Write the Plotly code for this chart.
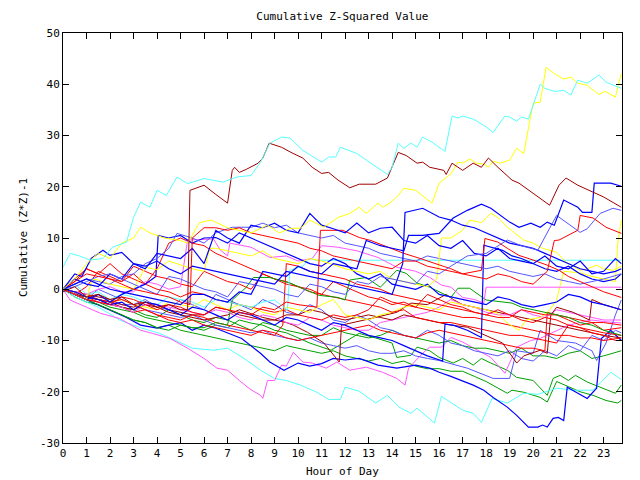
import plotly.graph_objects as go

# ---------------- data: (hour of day, cumulative (Z*Z)-1) per series ----------------
c1 = [(0, 4.3), (0.3, 7), (0.7, 6.5), (1.15, 5.7), (1.7, 6), (2.1, 8.2), (2.7, 9.2), (3.0, 14), (3.3, 17), (3.7, 16), (4.0, 19.3), (4.4, 18.3), (4.85, 21.9), (5.3, 20.6), (6.0, 21.6), (6.8, 20.9), (7.4, 21.9), (8.0, 22.2), (8.4, 24.8), (8.8, 28.5), (9.3, 29.7), (9.66, 29.5), (10.2, 27.1), (11.0, 24.8), (11.3, 25.8), (11.6, 25.8), (11.8, 27.7), (12.5, 26.5), (13.8, 22.4), (14.0, 23.8), (14.26, 28.5), (14.5, 27.5), (14.8, 28.5), (15.06, 27.7), (15.3, 29.7), (15.7, 28.7), (16.25, 26.9), (16.55, 33.8), (16.8, 33.4), (17.0, 33.8), (17.45, 33.2), (17.9, 32.0), (18.3, 30.6), (18.8, 33.8), (19.0, 33.6), (19.3, 32.8), (19.5, 33.6), (19.8, 33.2), (20.3, 40.0), (20.5, 39.2), (20.9, 38.6), (21.3, 38.8), (21.6, 37.9), (21.9, 40.8), (22.3, 40.2), (22.8, 41.8), (23.1, 40.4), (23.75, 39.2)]

dr1 = [(0, -0.5), (0.5, 0.5), (1, -1.5), (1.5, -1), (2, -2), (2.5, -1.5), (3, -3), (3.5, -2.5), (4, -3.5), (4.5, -3), (5, -4), (5.3, -4), (5.4, 19.3), (6.0, 20.3), (6.5, 18.5), (7.0, 16.8), (7.2, 23.2), (7.3, 23.8), (7.5, 22.8), (7.8, 23.4), (8.3, 24.6), (8.5, 25.6), (8.77, 28.5), (9.0, 28.1), (9.3, 27.7), (9.7, 26.7), (10.2, 25.6), (10.6, 23.8), (11.0, 22.6), (11.3, 22.8), (11.7, 21.3), (12.2, 19.8), (12.6, 20.5), (13.3, 20.5), (13.8, 21.7), (14.26, 26.7), (14.6, 26.1), (15.06, 24.6), (15.3, 24.8), (15.6, 23.8), (16.2, 23.2), (16.3, 22.4), (16.55, 24.6), (17.0, 23.2), (17.45, 24.6), (17.8, 23.8), (18.1, 25.6), (18.5, 23.8), (19.1, 21.3), (19.4, 20.7), (20.3, 17.8), (20.7, 16.4), (21.1, 20.3), (21.4, 21.7), (21.9, 20.3), (22.4, 19.3), (23.0, 18.0), (23.75, 16.0)]

y1 = [(0, 0), (0.5, 2), (1.0, 5), (1.5, 7), (2.0, 6), (2.5, 9), (3.0, 10), (3.3, 12.1), (3.7, 11), (4.3, 10), (5.0, 9.5), (5.3, 9), (5.8, 13), (6.3, 13.5), (7, 12), (8, 11), (8.7, 12.5), (9.2, 11), (9.7, 11.9), (10.1, 11.9), (10.5, 13.5), (11.1, 12.1), (11.7, 14), (12.2, 14.8), (12.6, 16), (12.9, 14.8), (13.4, 16.8), (13.6, 16), (13.9, 16.8), (14.2, 18), (14.5, 19.7), (15.0, 19.3), (15.7, 16.8), (16.0, 20.7), (16.5, 22.5), (16.8, 24.8), (17.0, 24.6), (17.3, 25.4), (17.6, 24.6), (17.9, 24.4), (18.1, 23.8), (18.3, 25.0), (18.6, 24.6), (19.0, 25.2), (19.3, 27.5), (19.6, 26.5), (20.0, 36.3), (20.3, 36.5), (20.55, 43.3), (20.9, 42.1), (21.3, 41.0), (21.6, 41.4), (21.9, 40.2), (22.3, 39.8), (22.8, 38.0), (23.06, 38.6), (23.5, 37.5), (23.75, 42.1)]

y2 = [(0, 0), (0.5, -1), (1, -2), (1.25, 2), (1.5, 1.8), (2, 1), (2.5, 0.5), (3, 0), (3.5, 4.3), (4, 3.8), (4.5, 5.5), (5, 4.8), (5.5, 4), (6, 3.5), (6.25, 8), (6.5, 8), (7, 7.5), (7.5, 7), (8, 6.5), (8.5, 7.5), (9, 6), (9.5, 5.5), (10, 5), (10.5, 6), (11, 5.5), (11.5, 4.8), (12, 4), (12.5, 3.5), (13, 3), (13.5, 3.5), (14, 2), (14.5, 1.5), (15, 1), (15.5, 0.5), (15.9, 2), (16.1, 10), (16.5, 10), (17, 11.5), (17.3, 13.5), (17.8, 13), (18.2, 14.8), (18.5, 14), (18.9, 12.1), (19.2, 11), (19.6, 9.6), (20, 9), (20.4, 8), (21.0, 7.2), (21.4, 5.3), (22.0, 3.7), (22.3, 4), (22.7, 4.7), (23.0, 4), (23.4, 3.7), (23.75, 4.5)]

y3 = [(0, 0), (0.5, -0.5), (1, -1.5), (1.5, -1), (2, -2.5), (2.5, -2), (3, -3), (3.5, -3.5), (4, -4), (4.5, -2.5), (5, -3), (5.5, -3.5), (6, -2), (6.5, -3), (7, -4), (7.5, -3), (8, -3.5), (8.5, -4.5), (9, -5), (9.5, -3.5), (10, -4), (10.5, -4.5), (11, -3), (11.5, -2), (12, -5), (12.5, -5.5), (13, -6), (13.5, -5), (14, -4.5), (14.5, -3.5), (15, -3), (15.5, -3.5), (16, -4), (16.5, -2.5), (17, -3), (17.5, -3.5), (18, -4), (18.5, -4.7), (18.9, -6.6), (19.4, -8), (19.7, -6), (20.3, -5.5), (20.7, -4.1), (21.0, -2.1), (21.3, 3.5), (22, 3.2), (22.5, 2.5), (23, 2), (23.5, 1.5), (23.6, 9), (23.75, 13.5)]

m1 = [(0, 0), (0.3, -2.1), (1.0, -3.5), (1.6, -4.7), (2.4, -5.7), (3.3, -8.0), (3.8, -8.6), (4.55, -9.6), (5.3, -11.5), (6.0, -13.5), (6.55, -15.4), (7.0, -15.8), (7.5, -17.8), (7.96, -19.5), (8.4, -20.7), (8.5, -21.3), (8.7, -17.8), (9.0, -17.8), (9.3, -14.8), (9.5, -15), (9.8, -12.3), (10.2, -14.2), (10.6, -14.4), (11.2, -15.4), (11.65, -14.2), (12.2, -15.8), (12.9, -15.2), (13.6, -16.2), (14.2, -17.4), (14.55, -18.7), (14.7, -15.4), (15.0, -13.9), (15.3, -12.5), (15.6, -11.3), (16.1, -11.3), (16.5, -9.4), (17.0, -10.3), (18.2, -13.3), (18.8, -16.4), (19.3, -11.3), (19.9, -10), (20.3, -9.6), (21, -8), (21.5, -7), (22, -6.5), (22.5, -6), (23, -6.3), (23.75, -6.6)]

c2 = [(0, 0), (0.5, -1.5), (1, -2.5), (1.5, -3.5), (2.1, -5.1), (2.4, -6), (3.3, -7.5), (4.1, -8.6), (4.8, -10), (5.5, -11.5), (6.4, -11.9), (7.0, -11.5), (7.7, -13.5), (8.4, -15.8), (9.0, -17.4), (9.5, -17.8), (10.1, -18.7), (10.8, -20.1), (11.3, -21.5), (11.8, -21.5), (12.0, -19.1), (12.6, -19.9), (13.3, -22.2), (13.8, -20.7), (14.3, -23), (14.8, -24.2), (15.06, -23.2), (15.8, -26.1), (16.1, -20.9), (16.55, -22.2), (17.0, -23.6), (17.45, -24.2), (17.8, -26), (18.25, -21.3), (18.9, -22.2), (19.6, -20.3), (20.2, -20.5), (21.0, -19.3), (21.7, -19.7), (22.55, -19.7), (23.3, -16.2), (23.75, -17.6)]

c3 = [(0, 0), (0.5, 1), (1, -1), (1.5, -0.5), (2, -2), (2.5, -1), (3, -1.5), (3.5, -2.5), (4, -3), (4.5, -1.5), (5, -2), (5.5, -2.5), (6, -3.5), (6.5, -2), (7, -2.5), (7.5, -3), (8, -3.5), (8.5, -2.5), (9, -2.1), (9.55, -4.1), (9.65, 3.7), (10.2, 4.5), (10.5, 6), (10.75, 5.66), (23.75, 5.66)]

m2 = [(0, 0), (0.5, -0.5), (1, -1), (1.5, 0), (2, 0.5), (2.5, -0.5), (3, -0.5), (3.5, 1.5), (4, 1), (4.5, 0), (5, 0.5), (5.3, 9.6), (6.4, 9.8), (6.7, 7.6), (7.0, 6.5), (7.1, 9), (8, 8.2), (8.8, 6.2), (9.5, 6.5), (10, 5.5), (10.6, 6), (11, 8.5), (11.7, 8.2), (12.5, 7.5), (13.4, 6.2), (14.2, 4.3), (15, 3.5), (15.6, 2.3), (16.1, 0.8), (16.5, 0.4), (17, -1.6), (17.5, -2), (17.9, -2.7), (18.0, 0.4), (23.75, 0.4)]

m3 = [(0, 0), (0.5, -1), (1, -2), (1.5, -2.5), (2, -3), (2.5, -3.5), (3, -4.5), (3.5, -3), (4, -3), (4.5, -3.5), (5, -4), (5.5, -4.5), (6, -5), (6.5, -4), (7, -4.5), (7.5, -5.5), (8, -6), (8.5, -5), (9, -5.5), (9.5, -6.5), (10, -7), (10.5, -5.5), (11, -6), (11.5, -7), (12, -7.5), (12.5, -8), (13, -8), (13.5, -6.5), (14, -6), (14.5, -5.5), (15, -5), (15.5, -4.5), (16, -3.5), (16.5, -2), (17, -3), (17.5, -3.5), (18, -4.5), (18.5, -5), (19, -5), (19.5, -4), (20, -5), (20.5, -5.5), (21, -4), (21.5, -4.5), (22, -5), (22.5, -5.5), (23, -6), (23.75, -6)]

b1 = [(0, 0), (0.5, 1), (1, 2), (1.5, 1), (2, 0), (2.5, -0.5), (3, -1), (3.5, -1.5), (4, -2), (4.5, -2.5), (5, -3), (5.5, -1), (6, -1), (6.5, -2), (7, -2.5), (7.5, -0.5), (8, -1), (8.5, 3.5), (9, 3), (9.5, 2.5), (10, 4.5), (10.5, 3.5), (11, 3), (11.5, 5), (12, 4.5), (12.5, 4), (12.9, 9.5), (13.5, 8.5), (14, 8), (14.5, 7.5), (14.7, 10.5), (15.3, 10.5), (16.0, 10.9), (16.6, 13.9), (17.2, 15.4), (17.8, 16.6), (18.2, 15.8), (18.6, 14.4), (19.0, 13.1), (19.4, 12.1), (19.9, 12.9), (20.3, 12.1), (20.6, 13.1), (20.9, 12.5), (21.3, 17.4), (21.9, 16.0), (22.1, 15.0), (22.5, 15), (22.6, 20.7), (23.3, 20.7), (23.75, 20.1)]

b2 = [(0, 0), (0.5, 3), (0.8, 2.5), (1.2, 6), (1.7, 7.6), (2.0, 6.6), (2.5, 7.2), (3, 5), (3.5, 4.5), (4, 5.5), (4.5, 4), (5, 3), (5.5, 4.5), (6, 4), (6.5, 3.5), (7, 3), (7.5, 2.5), (8, 2), (8.5, 1.5), (9, 1), (9.5, 3.5), (10, 3), (10.5, 2.5), (11, 2), (11.5, 1.5), (12, 1), (12.5, 0.5), (13, 0), (13.5, -0.5), (14, -1), (14.45, 5), (14.55, 15), (15.3, 15.8), (16, 14.1), (16.5, 13.5), (17, 12.5), (17.5, 12), (18, 11), (18.5, 10), (19, 9), (19.5, 8.5), (20, 8), (20.5, 7), (21, 6), (21.5, 5), (22, 4), (22.5, 3.5), (23, 3), (23.5, 3.5), (23.75, 4)]

b3 = [(0, 0), (0.5, -1), (1, -2), (1.5, -3), (2, -4), (2.7, -5.5), (3.3, -7), (4.0, -7.6), (4.5, -7), (5, -6.5), (5.5, -8), (6, -7), (6.5, -7.6), (7, -8.5), (7.6, -9.6), (8.4, -12.5), (8.8, -14.2), (9.4, -15.8), (10.0, -14.4), (10.5, -15), (11, -14.5), (11.5, -13.5), (12, -13.8), (12.6, -13.5), (13.4, -14.8), (14.2, -15.4), (15.0, -14.8), (15.6, -15.4), (16.0, -16.2), (16.5, -17), (17.45, -18.7), (17.9, -19.7), (18.3, -21.1), (18.9, -23), (19.3, -24.6), (19.8, -26.9), (20.2, -26.9), (20.4, -26.5), (20.6, -26.9), (20.85, -25.2), (21.07, -25), (21.3, -25.6), (21.45, -19.1), (22.3, -21.3), (22.7, -19.3), (22.9, -9.6), (23.3, -8.0), (23.75, -10)]

b5 = [(0, 0), (0.5, 2), (1, 1), (1.5, 0.5), (2, 3), (2.5, 2), (3, 5), (3.5, 4), (4, 7), (4.5, 6.5), (5, 6), (5.5, 8), (6, 5), (6.5, 11.5), (7, 10), (7.5, 9), (8, 12.5), (8.5, 12), (9, 12.9), (9.5, 11.5), (10, 11), (10.5, 14.8), (11, 12.5), (11.5, 11.8), (12, 11), (12.5, 12.9), (13, 11), (13.5, 11.9), (14, 12.1), (14.5, 9.5), (15, 9), (15.5, 10.5), (16, 8.5), (16.5, 8), (17, 9.5), (17.5, 7), (18, 6.5), (18.5, 8), (19, 6), (19.5, 5.5), (20, 5), (20.5, 6.5), (21, 4.5), (21.5, 4), (22, 5.5), (22.5, 3), (23, 3.5), (23.5, 6), (23.75, 5)]

b6 = [(0, 0), (0.5, -0.5), (1, -1.5), (1.5, -2), (2, -3), (2.5, -2.5), (3, -4), (3.5, -2.5), (4, -3), (4.5, -4), (5, -5), (5.5, -3.5), (6, -4), (6.5, -5), (7, -6), (7.5, -4.5), (8, -5), (8.5, -6), (9, -7), (9.5, -5.5), (10, -6), (10.5, -7), (11, -8), (11.5, -6.5), (12, -7), (12.5, -8), (13, -9), (13.5, -9.5), (14, -10), (14.5, -11), (15, -12), (15.5, -13), (16.15, -14), (16.25, -6.8), (16.6, -7), (17.2, -8), (17.8, -9.4), (17.9, 8.6), (18.7, 7.6), (19.1, 6.5), (19.5, 6), (20, 5), (20.5, 4), (21, 3.5), (21.5, 4.5), (22, 3), (22.5, 2), (23, 1.5), (23.5, 2), (23.75, 3)]

b7 = [(0, 0), (0.5, -1), (1, -2), (1.5, -1), (2, -2.5), (2.5, -1), (3, 0), (3.5, 1), (3.95, 2.5), (4.05, 10.5), (4.5, 10), (5, 10.5), (5.5, 9), (6, 10), (6.5, 10.1), (7, 9), (7.5, 11), (8, 10), (8.5, 9), (9, 8), (9.5, 7), (10, 6), (10.5, 5), (11, 4.5), (11.5, 6), (12, 5), (12.5, 3), (13, 2), (13.5, 3), (14, 1), (14.5, 0.5), (15, 0), (15.5, 1), (16, -1), (16.5, -1.5), (17, -2), (17.5, -2.5), (18, -3), (18.5, -1.5), (19, -2), (19.5, -3), (20, -3.5), (20.5, -3), (21, -2.5), (21.5, -1), (22, -1.5), (22.5, -2.5), (23, -3), (23.75, -4)]

lb1 = [(0, 0), (0.5, 0.5), (1, 1.5), (1.5, 2.5), (2, 3), (2.5, 2), (3, 1), (3.5, 0), (4, -1), (4.5, 2.5), (5, 2), (5.5, 1), (6, 0), (6.5, -0.5), (7, -1.5), (7.5, 1.5), (8, 1), (8.5, 0.5), (9, 0), (9.5, -1), (10, -1.5), (10.5, 1), (11, 0.5), (11.5, -0.5), (12, -1), (12.5, 1.5), (13, 1), (13.5, 2.5), (14, 2), (14.5, 1.5), (15, 1), (15.5, 3.5), (16, 3), (16.5, 4.5), (17.2, 6.5), (18, 7), (18.9, 9.6), (19.5, 8.5), (20.2, 7.6), (20.7, 11.9), (21.0, 14.4), (22.0, 11.1), (22.3, 11.8), (22.85, 14.8), (23.4, 15.8), (23.75, 15.4)]

lb2 = [(0, 0), (0.5, -1), (1, -1.5), (1.5, -2), (2, -2.5), (2.5, -3), (3, -3), (3.5, -4), (4, -4.5), (4.5, -5), (5, -5.5), (5.5, -5), (6, -6), (6.5, -7), (7, -7.5), (7.5, -8), (8, -8.5), (8.5, -8), (9, -9), (9.5, -9.5), (10, -10), (10.5, -9.5), (11, -10.5), (11.5, -11), (12, -11.5), (12.5, -11), (13, -12), (13.5, -12.5), (14, -12.5), (14.5, -12), (15, -13), (15.5, -13.5), (16, -13.9), (17.2, -15.4), (18.3, -17.4), (19, -17.4), (19.3, -12), (20, -12.5), (20.3, -8), (21, -10), (21.8, -10.5), (22.5, -12), (22.7, -13.9), (23.1, -10.5), (23.5, -5), (23.75, -2.1)]

lb3 = [(0, 0), (0.5, 1), (1, 2), (1.5, 1.5), (2, 1), (2.5, 2.5), (3, 3), (3.5, 5), (4, 6), (4.5, 8), (4.85, 10.9), (5.5, 10), (6, 9), (6.5, 11), (7.2, 12.1), (8, 12.1), (8.5, 12.9), (9, 12), (9.5, 12.5), (10, 11), (10.5, 10.5), (11, 10), (11.5, 10.5), (12, 9), (12.5, 8.5), (13, 8), (13.5, 7), (14, 6.5), (14.5, 6), (15, 5.5), (15.5, 6.5), (16, 6), (16.5, 5.5), (17, 5), (17.5, 4.5), (18, 4), (18.5, 4.5), (19, 3.5), (19.5, 3), (20, 2.5), (20.5, 3), (21, 2), (21.5, 1.5), (22, 1), (22.5, 1.5), (23, 2), (23.75, 3)]

lb4 = [(0, 0), (0.5, -1), (1, -2), (1.5, 0), (2, -1), (2.5, -2), (3, -3), (3.5, -2), (4, -3.5), (4.5, -4), (5, -2), (5.5, -3), (6, -4), (6.5, -1), (7, -2), (7.5, -3), (8, -4), (8.5, -2), (9, -3), (9.5, -4.5), (10, -5), (10.5, -3), (11, -4), (11.5, -6), (12, -6.5), (12.5, -5), (13, -6), (13.5, -7.5), (14, -8), (14.5, -9), (15, -9.5), (15.5, -8), (16, -9), (16.5, -10.5), (17, -11), (17.5, -12), (18, -12.5), (18.5, -13), (19, -12), (19.5, -13.5), (20, -14), (20.5, -12), (21, -13), (21.5, -11), (22, -12), (22.5, -9), (23, -10), (23.5, -8), (23.75, -8.5)]

g1 = [(0, 0), (0.5, -1), (1, -2), (1.5, -2.5), (2, -3.5), (2.5, -4), (3, -4.5), (3.5, -5.5), (4, -6), (4.5, -6.5), (5, -7), (5.5, -7.5), (6, -8), (6.5, -7), (7, -7.5), (7.5, -6), (8, -6.6), (8.5, -7), (9, -8), (9.5, -8.5), (10, -9.5), (10.5, -10.5), (11.4, -11.9), (12.1, -10), (12.6, -8.6), (13.3, -9.5), (14.0, -10.5), (14.2, -13.3), (14.8, -12.9), (15.06, -11.3), (15.6, -12), (16.0, -13.3), (16.6, -14.4), (17.0, -13.5), (17.45, -14.8), (17.8, -13.5), (18.2, -14.4), (18.9, -15.8), (19.3, -17.2), (20.0, -17.8), (20.6, -20.7), (20.85, -17.4), (21.15, -16.8), (21.5, -17.8), (21.8, -16.8), (22.3, -18.1), (22.85, -19.1), (23.1, -19.7), (23.5, -20.3), (23.75, -18.7)]

g2 = [(0, 0), (0.5, -1.5), (1, -2.5), (1.5, -3), (2, -4), (2.5, -5), (3, -6), (3.5, -6.5), (4, -7.5), (4.5, -7), (5, -8), (5.5, -8.5), (6, -9), (6.5, -9.5), (7, -10), (7.5, -10.5), (8, -11), (8.5, -11.5), (9, -12), (9.5, -11), (10, -11.5), (10.5, -12), (11, -12.5), (11.5, -12), (12, -13), (12.5, -13.5), (13, -14), (13.5, -13.5), (14, -14.5), (14.5, -14), (15, -15), (15.5, -15.5), (16, -15.5), (16.5, -16), (17, -16), (17.5, -17), (18, -18), (18.9, -20.3), (19.1, -19.7), (19.6, -20.1), (20.3, -21.1), (20.6, -22), (21, -18), (21.5, -19), (22, -20), (22.55, -20.7), (23.1, -21.7), (23.6, -22.2), (23.75, -21.7)]

g3 = [(0, 0), (0.5, -1), (1, -2), (1.5, -3), (2, -4), (2.5, -5), (3, -6), (3.5, -6.5), (4, -7.5), (4.5, -8), (5, -7), (5.5, -7.5), (6, -7.5), (6.5, -6.5), (7, -7), (7.2, -2.1), (7.8, 0.4), (8.1, 2.3), (8.8, 2.3), (9.66, 1.2), (10.4, -0.2), (10.9, -1.2), (11.7, -1.6), (12.0, -2.1), (12.2, 1.8), (12.9, 2.3), (13.5, 0.4), (14.2, 3.7), (14.6, 3.1), (15.06, 1.2), (15.6, 0.4), (16.5, -1.6), (16.8, 0.2), (17.3, 0.2), (18.0, -2.1), (19.1, -2.7), (19.5, -3.5), (20, -4), (20.5, -4.5), (21, -5), (21.5, -5.5), (22, -6.5), (22.5, -7), (23, -8), (23.75, -9)]

g4 = [(0, 0), (0.5, -0.5), (1, -1.5), (1.5, -2), (2, -3), (2.5, -3.5), (3, -4), (3.5, -5), (4, -5.5), (4.5, -4), (5, -5), (5.5, -6), (6, -6.5), (6.5, -5.5), (7, -6), (7.5, -7), (8, -8), (8.5, -6.5), (9, -7), (9.5, -8), (10, -8.5), (10.5, -9), (11, -9), (11.5, -7.5), (12, -8.5), (12.5, -9), (13, -9.5), (13.5, -9), (14, -8), (14.5, -9), (15, -9.5), (15.5, -10), (16, -10.5), (16.5, -10), (17, -11), (17.5, -11.5), (18, -11.5), (18.5, -12), (19, -12.5), (19.5, -11.5), (20, -13), (20.5, -13), (21, -13.5), (21.5, -12.5), (22, -12), (22.5, -13.5), (23, -13), (23.75, -12)]

r1 = [(0, 0), (0.5, 1.5), (1, 3), (1.5, 2.5), (2, 2), (2.5, 1), (3, 0), (3.5, -0.5), (4, -1), (4.5, -1.5), (5, -2.5), (5.4, -3), (5.5, 10), (6, 12), (6.5, 12), (7, 11.5), (7.5, 12), (8, 11), (8.5, 10.5), (9, 10), (9.5, 9.5), (10, 9), (10.5, 8), (11, 7.5), (11.5, 6.5), (12, 6), (12.5, 5.5), (13, 5), (13.5, 4.5), (14, 4), (14.5, 5.5), (15, 5.5), (15.5, 4.5), (16, 4), (16.5, 3.5), (17, 3), (17.5, 2.5), (18, 2), (18.5, 3), (19, 2.5), (19.5, 1.5), (20, 1), (20.6, 3.5), (20.9, 9.5), (21.1, 9.6), (21.9, 11.5), (22.0, 14.4), (22.55, 13.9), (23.1, 12.1), (23.75, 10.9)]

r3 = [(0, 0), (0.5, -1), (1, -2), (1.5, -2.5), (2, -3), (2.5, -1.5), (3, -2), (3.5, -3), (4, -4), (4.5, -3), (5, -3.5), (5.5, -4.5), (6, -5), (6.5, -3.5), (7, -4), (7.5, -4.5), (8, -5), (8.5, -3.5), (9, -4), (9.5, -2.5), (10, -3), (10.8, -3.5), (10.95, 11.5), (11.9, 11.5), (12.6, 10.1), (13.1, 9.5), (13.6, 8.6), (14.0, 8), (14.5, 7), (15.06, 6.2), (15.8, 5), (16.5, 4), (17, 3), (17.8, 3.7), (17.95, 9.9), (18.5, 9.2), (18.9, 8.0), (19.4, 6.6), (20.0, 5.7), (20.6, 4.7), (21.1, 3.7), (21.5, 2.5), (22, 1.5), (22.5, 0.5), (23, -0.5), (23.75, -1.6)]

r4 = [(0, 0), (0.5, -0.5), (1, -1), (1.5, -2), (2, -2.5), (2.5, -2), (3, -3), (3.5, -4), (4, -5), (4.5, -5.5), (5, -6), (5.5, -5), (6, -5.5), (6.5, -6.5), (7, -7), (7.5, -7.5), (8, -8), (8.5, -8.5), (9, -9), (9.35, -7), (9.5, 5), (10, 4.5), (10.5, 3.5), (11, 3), (11.5, 2.5), (12, 2), (12.5, 1), (13, 0.5), (13.5, 0), (14, -1), (14.5, -1.5), (15, -2), (15.5, -2.5), (16, -3), (16.5, -3.5), (17, -4), (17.5, -4.5), (18, -5), (18.5, -5.5), (19, -5.5), (19.5, -4), (20, -4.5), (20.5, -5), (21, -5), (21.5, -5.5), (22, -6), (22.5, -6.5), (23, -6.5), (23.75, -7)]

r5 = [(0, 0), (0.5, -1), (1, -1.5), (1.5, -2.5), (2, -3), (2.5, -3.5), (3, -4.5), (3.5, -4), (4, -5), (4.5, -6), (5, -6.5), (5.5, -6), (6, -7), (6.5, -7.5), (7, -8), (7.5, -8.5), (8, -9), (8.5, -8), (9, -8.5), (9.5, -9.5), (10, -10), (10.5, -9.5), (11, -9), (11.5, -8.5), (12, -8), (12.5, -7.5), (13, -7), (13.5, -8), (14, -8.5), (14.5, -9), (15, -9.5), (15.5, -8.5), (16, -8), (16.5, -8.5), (17, -9), (17.5, -9.5), (18, -10), (18.5, -10.5), (19, -11), (19.5, -11.5), (20, -11.5), (20.5, -12), (20.6, -4.5), (21, -5), (21.5, -6), (22, -7), (22.5, -6.5), (23, -8), (23.75, -7.5)]

r6 = [(0, 0), (0.5, 2), (1, 4), (1.5, 3), (2, 5), (2.5, 3), (3, 2), (3.5, 1), (4, 4), (4.5, 9), (5, 10), (5.5, 9), (6, 8.5), (6.5, 7), (7, 6), (7.5, 5), (8, 4), (8.5, 3), (9, 2), (9.5, 1.5), (10, 0.5), (10.5, 0), (11, -1), (11.5, -1.5), (12, -2), (12.5, -2.5), (13, -3), (13.5, -3.5), (14, -4.5), (14.5, -4), (15, -5.5), (15.5, -6), (16, -6.5), (16.5, -6.5), (17, -7), (17.5, -7.5), (18, -8), (18.5, -8.5), (19, -9), (19.5, -9), (20, -9.5), (20.5, -10), (21, -10.5), (21.5, -7), (22, -7.5), (22.5, -8), (23, -8.5), (23.75, -9)]

r7 = [(0, 0), (0.5, -1), (1, 0.5), (1.5, 3.5), (2, 2.5), (2.5, 1.5), (3, 3), (3.5, 1), (4, 0), (4.5, -0.5), (5, -1.5), (5.5, -0.5), (6, -1), (6.5, -2), (7, -2.5), (7.5, -3), (8, -3.5), (8.5, -4), (9, -4.5), (9.5, -4), (10, -5), (10.5, -5.5), (11, -6), (11.5, -5), (12, -5.5), (12.5, -5), (13, -4), (13.5, -1.5), (14, -2.5), (14.5, -3), (15, -3.5), (15.5, -4), (16, -4.5), (16.5, -5), (17, -5.5), (17.5, -5.5), (18, -6), (18.5, -6.5), (19, -7), (19.5, -7.5), (20, -8), (20.5, -8.5), (21, -9), (21.5, -9), (22, -9.5), (22.5, -9.5), (23, -10), (23.75, -9.5)]

r8 = [(0, 0), (0.5, 1.5), (1, 4), (1.5, 3), (2, 2), (2.5, 1.5), (3, 4.5), (3.5, 3.5), (4, 2.5), (4.5, 2), (5, 1), (5.5, 0.5), (6, 3.5), (6.5, 2.5), (7, 1.5), (7.5, 1), (8, 0), (8.5, 3), (9, 2), (9.5, 1), (10, 0.5), (10.5, -0.5), (11, -1), (11.5, 1.5), (12, 0.5), (12.5, -0.5), (13, -1.5), (13.5, -2), (14, -3), (14.5, -2.5), (15, -3.5), (15.5, -1), (16, -2), (16.5, -3), (17, -3.5), (17.5, -4.5), (18, -5), (18.5, -4), (19, -5), (19.5, -6), (20, -6.5), (20.5, -5.5), (21, -6), (21.5, -7), (22, -7.5), (22.5, -8.5), (23, -9), (23.5, -10), (23.75, -10)]

dr2 = [(0, 0), (0.5, -0.5), (1, -1), (1.5, -1.5), (2, -2), (2.5, -3), (3, -3.5), (3.5, -2.5), (4, -3), (4.5, -4), (5, -4.5), (5.5, -5), (6, -5), (6.5, -3.5), (7, -4), (7.5, -5), (8, -5.5), (8.5, -6), (9, -6), (9.5, -5), (10, -5), (10.5, -4), (11, -4.5), (11.5, -5.5), (12, -6), (12.5, -5.5), (13, -5), (13.5, -5.5), (14, -6), (14.5, -5), (15, -5.5), (15.5, -6), (16, -6.5), (16.5, -7), (17.2, -7.4), (18, -9), (18.7, -10.5), (19.3, -14.4), (19.6, -13), (20.3, -11.9), (20.6, -12.5), (20.75, -5.1), (21, -3.5), (21.7, -4.5), (22.4, -6), (22.5, -2), (23, -3), (23.75, -4)]

dr3 = [(0, 0), (0.5, -1), (1, -1.5), (1.5, -2), (2, -2.5), (2.5, -3.5), (3, -4), (3.5, -3), (4, -3.5), (4.5, -4.5), (5, -5), (5.5, -5.5), (6, -6), (6.5, -5.5), (7, -5), (7.5, -4), (8, -4.7), (8.5, -5.5), (9, -6), (9.5, -6.5), (9.8, -7), (10.4, -8.4), (11.1, -10.5), (11.75, -14.2), (11.85, -7), (12.6, -6.3), (13.3, -5.5), (14.2, -4.5), (14.8, -2.7), (15.5, -3), (16.3, -1), (16.6, -2), (17, -3), (17.5, -3.5), (18, -4), (18.5, -4.5), (19, -5), (19.5, -5.5), (20, -6), (20.5, -6.5), (21, -7), (21.5, -7.5), (22, -8), (22.5, -8.5), (23, -9), (23.75, -9.5)]

x_ticks = list(range(0, 24))
y_ticks = list(range(-30, 51, 10))

# ---------------- colours ----------------
RED = "#ff0000"
DARKRED = "#a00000"
YELLOW = "#ffff00"
CYAN = "#55ffff"
BLUE = "#0000ff"
LIGHTBLUE = "#5555ff"
MAGENTA = "#ff55ff"
GREEN = "#00a000"

series = [
    (g2, GREEN), (g1, GREEN), (c2, CYAN), (m1, MAGENTA), (g4, GREEN),
    (lb2, LIGHTBLUE), (lb4, LIGHTBLUE), (b3, BLUE), (r5, RED), (dr3, DARKRED),
    (m3, MAGENTA), (r7, RED), (dr2, DARKRED), (y3, YELLOW), (r8, RED),
    (r6, RED), (r4, RED), (g3, GREEN), (c3, CYAN), (m2, MAGENTA),
    (b6, BLUE), (b7, BLUE), (lb3, LIGHTBLUE), (y2, YELLOW), (r3, RED),
    (b2, BLUE), (b5, BLUE), (lb1, LIGHTBLUE), (r1, RED), (b1, BLUE),
    (y1, YELLOW), (dr1, DARKRED), (c1, CYAN),
]

FONT = "DejaVu Sans Mono"

fig = go.Figure()
for pts, col in series:
    fig.add_trace(go.Scatter(x=[p[0] for p in pts], y=[p[1] for p in pts], mode="lines",
                             line=dict(color=col, width=1.2 if col == BLUE else 1.0),
                             hoverinfo="skip", showlegend=False))

axis_common = dict(showline=True, linecolor="black", linewidth=1, mirror="ticks",
                   ticks="inside", ticklen=6, tickcolor="black", showgrid=False,
                   zeroline=False, tickfont=dict(family=FONT, size=11, color="black"))

fig.update_layout(
    width=640, height=480,
    margin=dict(l=63, r=18, t=33, b=37),
    paper_bgcolor="white", plot_bgcolor="white",
    font=dict(family=FONT, size=11, color="black"),
    title=dict(text="Cumulative Z-Squared Value", x=0.535, xref="container",
               y=1 - 16 / 480, yref="container", yanchor="middle",
               font=dict(family=FONT, size=11, color="black")),
    xaxis=dict(range=[0, 23.78], tickvals=x_ticks, ticktext=[str(t) for t in x_ticks],
               **axis_common),
    yaxis=dict(range=[-30, 50], tickvals=y_ticks, ticktext=[str(t) for t in y_ticks],
               **axis_common),
    annotations=[
        dict(text="Hour of Day", xref="paper", yref="paper", x=0.5, y=(443 - 471) / 410,
             xanchor="center", yanchor="middle", showarrow=False,
             font=dict(family=FONT, size=11, color="black")),
        dict(text="Cumulative (Z*Z)-1", xref="paper", yref="paper", x=(23 - 63) / 559, y=0.5,
             xanchor="center", yanchor="middle", textangle=-90, showarrow=False,
             font=dict(family=FONT, size=11, color="black")),
    ],
)

fig.write_html("out.html")
